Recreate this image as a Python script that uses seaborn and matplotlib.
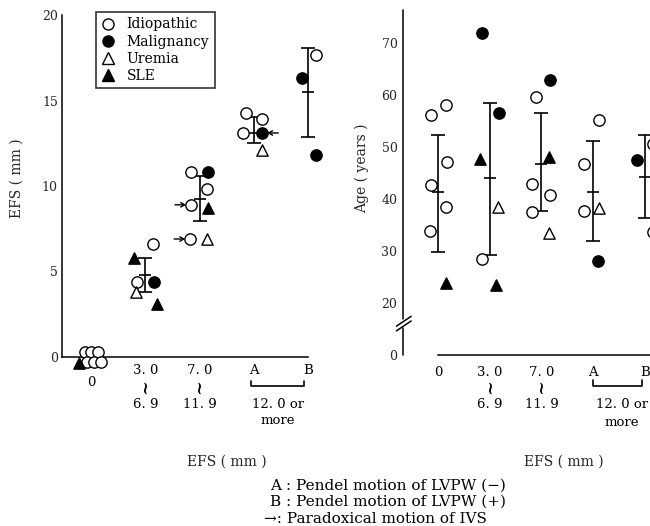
import numpy as np
import pandas as pd
import matplotlib
matplotlib.use("Agg")
import matplotlib.pyplot as plt
import matplotlib.transforms as mtransforms
from matplotlib.lines import Line2D
import seaborn as sns

sns.set_theme(style="white")
plt.rcParams['font.family'] = ['DejaVu Serif']
plt.rcParams['font.size'] = 9
plt.rcParams['axes.edgecolor'] = 'black'
plt.rcParams['text.color'] = 'black'

# ---------------- data ----------------
categories = ["0", "3. 0", "7. 0", "A", "B"]
lower_labels = ["", "6. 9", "11. 9", "", ""]
groups = ["Idiopathic", "Malignancy", "Uremia", "SLE"]

# Left panel: EFS (mm) per patient
efs_group = (["Idiopathic"] * 16 + ["Malignancy"] * 5 + ["Uremia"] * 3 + ["SLE"] * 4)
efs_cat = ([0, 0, 0, 0, 0, 0, 1, 1, 2, 2, 2, 2, 3, 3, 3, 4]
           + [1, 2, 3, 4, 4] + [1, 2, 3] + [0, 1, 1, 2])
efs_side = ([-0.75, 0.0, 0.75, -0.45, 0.4, 1.1, -0.95, 0.85, -1.0, 0.85, -0.95, -1.05, -0.95, 0.95, -1.25, 0.95]
            + [0.95, 0.95, 0.95, -0.65, 0.95] + [-1.05, 0.85, 0.95] + [-1.4, -1.3, 1.3, 0.95])
efs_value = ([0.3, 0.3, 0.3, -0.3, -0.3, -0.3, 4.4, 6.6, 10.8, 9.8, 8.9, 6.9, 14.25, 13.9, 13.1, 17.65]
             + [4.4, 10.8, 13.1, 16.3, 11.8] + [3.8, 6.9, 12.1] + [-0.35, 5.8, 3.1, 8.7])

efs_bar_cat = [1, 2, 3, 4]
efs_bar_mean = [4.8, 9.25, 13.1, 15.5]
efs_bar_lo = [3.8, 7.95, 12.5, 12.85]
efs_bar_hi = [5.8, 10.6, 14.05, 18.05]

# paradoxical motion of IVS (arrows): category, side, value
paradox_cat = [2, 2, 3, 0]
paradox_side = [-0.95, -1.05, 0.95, 1.1]
paradox_value = [8.9, 6.9, 13.1, -0.3]

# Right panel: Age (years) per patient
age_group = (["Idiopathic"] * 16 + ["Malignancy"] * 5 + ["Uremia"] * 3 + ["SLE"] * 4)
age_cat = ([0, 0, 0, 0, 0, 0, 1, 2, 2, 2, 2, 3, 3, 3, 4, 4]
           + [1, 1, 2, 3, 4] + [1, 2, 3] + [0, 1, 1, 2])
age_side = ([-0.9, 1.0, 1.1, -0.9, 1.0, -1.0, -0.9, -0.7, -1.1, 1.0, -1.2, 0.7, -1.1, -1.1, 1.0, 1.0]
            + [-0.9, 1.1, 1.0, 0.6, -1.0] + [1.0, 0.85, 0.75] + [0.95, -1.15, 0.7, 0.95])
age_value = ([56.2, 58.2, 47.2, 42.7, 38.5, 33.9, 28.5, 59.6, 42.9, 40.8, 37.6, 55.2, 46.8, 37.8, 50.7, 33.6]
             + [72.0, 56.5, 62.9, 28.1, 47.5] + [38.4, 33.4, 38.2] + [23.8, 47.7, 23.5, 48.2])

age_bar_cat = [0, 1, 2, 3, 4]
age_bar_mean = [41.3, 44.0, 46.75, 41.35, 44.3]
age_bar_lo = [29.8, 29.2, 37.7, 31.9, 36.4]
age_bar_hi = [52.3, 58.5, 56.5, 51.1, 52.4]

age_ticks = [0, 20, 30, 40, 50, 60, 70]
efs_ticks = [0, 5, 10, 15, 20]

# ---------------- styling ----------------
marker_of = {"Idiopathic": "o", "Malignancy": "o", "Uremia": "^", "SLE": "^"}
face_of = {"Idiopathic": "white", "Malignancy": "black", "Uremia": "white", "SLE": "black"}
DODGE = 0.16
PX = 0.72  # points per pixel at dpi 100

fig = plt.figure(figsize=(6.5, 5.26), dpi=100)
fig.patch.set_facecolor("white")
axL = fig.add_axes([62 / 650, 169 / 526, 246 / 650, 342 / 526])
axR = fig.add_axes([403 / 650, 171 / 526, 273 / 650, 345 / 526])


def draw_points(ax, grp, cat, side, val):
    df = pd.DataFrame({"group": grp, "x": np.array(cat) + DODGE * np.array(side), "y": val})
    for g in groups:
        sub = df[df.group == g]
        sns.scatterplot(data=sub, x="x", y="y", marker=marker_of[g], s=66,
                        color=face_of[g], edgecolor="black", linewidth=1.0,
                        ax=ax, legend=False, clip_on=False, zorder=4)


def draw_bars(ax, cat, mean, lo, hi):
    mean = np.array(mean); lo = np.array(lo); hi = np.array(hi)
    ax.errorbar(cat, mean, yerr=[mean - lo, hi - mean], fmt="none", ecolor="black",
                elinewidth=1.2, capsize=5, capthick=1.2, zorder=3, clip_on=False)
    ax.scatter(cat, mean, marker="_", s=70, color="black", linewidths=1.2, zorder=3, clip_on=False)


def cat_text(ax, x, dy, s, **kw):
    ax.annotate(s, xy=(x, 0), xycoords=("data", "axes fraction"), xytext=(0, -dy * PX),
                textcoords="offset points", ha="center", va="center", annotation_clip=False, **kw)


# ---------- left panel ----------
draw_points(axL, efs_group, efs_cat, efs_side, efs_value)
draw_bars(axL, efs_bar_cat, efs_bar_mean, efs_bar_lo, efs_bar_hi)
axL.set_xlim(-0.535, 4.0)
axL.set_ylim(0, 20)
axL.set_yticks(efs_ticks)
axL.set_yticklabels([str(t) for t in efs_ticks])
axL.set_xticks(range(len(categories)))
axL.set_xticklabels([])
for sp in ["top", "right"]:
    axL.spines[sp].set_visible(False)
for sp in ["left", "bottom"]:
    axL.spines[sp].set_linewidth(1.1)
axL.tick_params(axis="both", direction="in", length=11, width=1.1, color="black", labelsize=9, pad=3)
axL.set_ylabel("EFS ( mm )", fontsize=10)
axL.yaxis.set_label_coords(-0.157, 0.523)
axL.set_xlabel("EFS ( mm )", fontsize=10)
axL.xaxis.set_label_coords(0.67, -0.287)

for i, c in enumerate(categories):
    cat_text(axL, i, 25 if i == 0 else 13, c, fontsize=9.5)
    if lower_labels[i]:
        cat_text(axL, i, 30, "~", fontsize=13, rotation=90)
        cat_text(axL, i, 47, lower_labels[i], fontsize=9.5)
cat_text(axL, 3.45, 47, "12. 0 or", fontsize=9.5)
cat_text(axL, 3.45, 64, "more", fontsize=9.5)
tL = mtransforms.blended_transform_factory(axL.transData, axL.transAxes)
axL.plot([2.95, 2.95, 3.92, 3.92], [-24 / 342, -29 / 342, -29 / 342, -24 / 342],
         transform=tL, color="black", lw=1.2, clip_on=False)

for c, sd, v in zip(paradox_cat, paradox_side, paradox_value):
    x0 = c + DODGE * sd
    d = np.sign(sd)
    if c == 0:
        axL.annotate("", xy=(x0 + 0.09, v - 0.05), xytext=(x0 + 0.15, v - 0.25),
                     arrowprops=dict(arrowstyle="-", lw=0.9, color="black"), annotation_clip=False)
        continue
    axL.annotate("", xy=(x0 + d * 0.1, v), xytext=(x0 + d * 0.3, v),
                 arrowprops=dict(arrowstyle="->,head_length=0.3,head_width=0.18", lw=1.0,
                                 color="black", shrinkA=0, shrinkB=0), annotation_clip=False)

handles = [Line2D([], [], marker=marker_of[g], ls="", mfc=face_of[g], mec="black", ms=8, mew=1.0)
           for g in groups]
leg = axL.legend(handles, groups, loc="upper left", bbox_to_anchor=(0.138, 1.009),
                 borderaxespad=0, frameon=True, fancybox=False, fontsize=10,
                 handlelength=1.0, handletextpad=0.8, labelspacing=0.22, borderpad=0.4)
leg.get_frame().set_edgecolor("black")
leg.get_frame().set_linewidth(1.2)

# ---------- right panel ----------
age_pos = [10 if t == 0 else t for t in age_ticks]
draw_points(axR, age_group, age_cat, age_side, age_value)
draw_bars(axR, age_bar_cat, age_bar_mean, age_bar_lo, age_bar_hi)
axR.set_xlim(-0.677, 4.6)
axR.set_ylim(10, 76.4)
axR.set_yticks(age_pos)
axR.set_yticklabels([str(t) for t in age_ticks])
axR.set_xticks(range(len(categories)))
axR.set_xticklabels([])
for sp in ["top", "right", "left"]:
    axR.spines[sp].set_visible(False)
axR.spines["bottom"].set_linewidth(1.1)
axR.spines["bottom"].set_bounds(0, 4.6)
axR.tick_params(axis="both", direction="in", length=11, width=1.1, color="black", labelsize=9, pad=4)
tR = axR.get_yaxis_transform()
axR.plot([0, 0], [10, 15.2], transform=tR, color="black", lw=1.1, clip_on=False)
axR.plot([0, 0], [16.9, 76.4], transform=tR, color="black", lw=1.1, clip_on=False)
for yc in (15.6, 16.5):
    axR.plot([-0.024, 0.03], [yc - 0.95, yc + 0.95], transform=tR, color="black", lw=1.1, clip_on=False)
axR.set_ylabel("Age ( years )", fontsize=10)
axR.yaxis.set_label_coords(-0.126, 0.542)
axR.set_xlabel("EFS ( mm )", fontsize=10)
axR.xaxis.set_label_coords(0.59, -0.29)

for i, c in enumerate(categories):
    cat_text(axR, i, 17, c, fontsize=9.5)
    if lower_labels[i]:
        cat_text(axR, i, 32, "~", fontsize=13, rotation=90)
        cat_text(axR, i, 49, lower_labels[i], fontsize=9.5)
cat_text(axR, 3.56, 50, "12. 0 or", fontsize=9.5)
cat_text(axR, 3.55, 67, "more", fontsize=9.5)
tR2 = mtransforms.blended_transform_factory(axR.transData, axR.transAxes)
axR.plot([3.0, 3.0, 3.95, 3.95], [-25 / 345, -31 / 345, -31 / 345, -25 / 345],
         transform=tR2, color="black", lw=1.2, clip_on=False)

# ---------- notes ----------
fig.text(270 / 650, 1 - 486 / 526, "A : Pendel motion of LVPW (\u2212)", fontsize=11, va="center", ha="left")
fig.text(270 / 650, 1 - 502 / 526, "B : Pendel motion of LVPW (+)", fontsize=11, va="center", ha="left")
fig.text(264 / 650, 1 - 519 / 526, "\u2192: Paradoxical motion of IVS", fontsize=11, va="center", ha="left")

fig.savefig("out.png", dpi=100, facecolor="white")
